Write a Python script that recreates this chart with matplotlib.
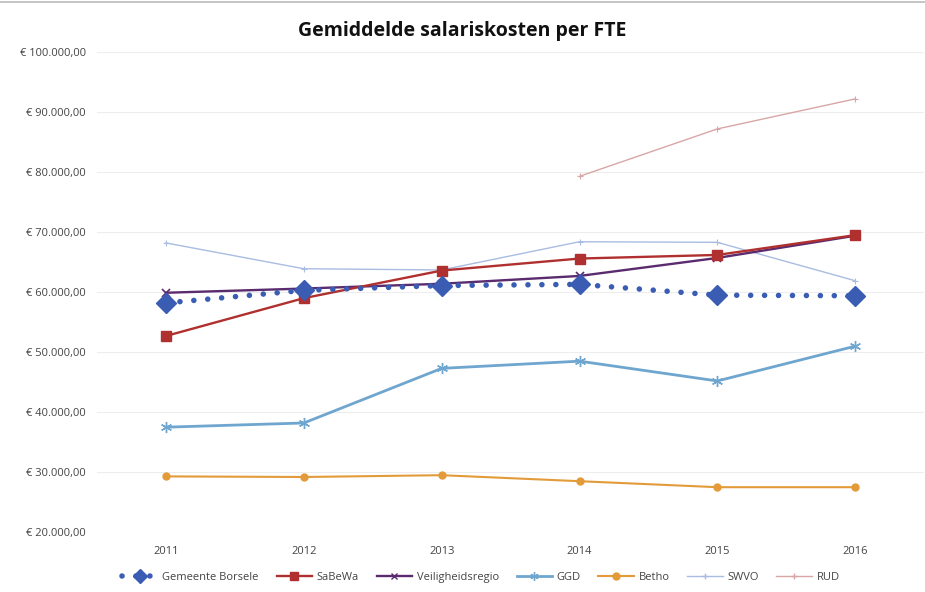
import matplotlib
matplotlib.use("Agg")
import matplotlib.pyplot as plt
from matplotlib.ticker import FuncFormatter
from matplotlib.lines import Line2D
import numpy as np

years = ["2011", "2012", "2013", "2014", "2015", "2016"]
borsele = [58200, 60300, 61100, 61300, 59500, 59400]
sabewa = [52700, 59000, 63600, 65600, 66200, 69500]
veiligheid = [59900, 60600, 61400, 62700, 65700, 69400]
ggd = [37500, 38200, 47300, 48500, 45200, 51000]
betho = [29300, 29200, 29500, 28500, 27500, 27500]
swvo = [68200, 63900, 63700, 68400, 68300, 61900]
rud = [None, None, None, 79300, 87200, 92200]
yticks = list(range(20000, 100001, 10000))

plt.rcParams['font.family'] = ['Open Sans', 'DejaVu Sans']

fig = plt.figure(figsize=(9.25, 5.92), dpi=100)
ax = fig.add_axes([0.105, 0.101, 0.894, 0.811])
x = np.arange(len(years))

def arr(v):
    return np.array([np.nan if a is None else a for a in v], dtype=float)

DOTS = (0, (0.01, 2.5))

ax.plot(x, arr(swvo), color="#A9BCE2", lw=1.0, marker="+", ms=5, mew=0.8, zorder=2)
ax.plot(x, arr(rud), color="#D9A6A6", lw=1.0, marker="+", ms=5, mew=0.8, zorder=2)
ax.plot(x, arr(betho), color="#E39B3A", lw=1.5, marker="o", ms=5, zorder=3)
ax.plot(x, arr(ggd), color="#6FA6CF", lw=2.0, marker=(6, 2, 0), ms=8, mew=1.0, zorder=3)
ax.plot(x, arr(veiligheid), color="#5A2B6E", lw=1.7, marker="x", ms=6, mew=1.2, zorder=4)
ax.plot(x, arr(sabewa), color="#B0302F", lw=1.7, marker="s", ms=7, zorder=4)
ax.plot(x, arr(borsele), color="#3A5DB3", lw=4.0, ls=DOTS, dash_capstyle="round",
        marker="D", ms=10, zorder=5)

ax.set_xlim(-0.5, len(years) - 0.5)
ax.set_ylim(20000, 100000)
ax.set_yticks(yticks)
ax.yaxis.set_major_formatter(FuncFormatter(
    lambda v, p: "€ " + f"{int(v):,}".replace(",", ".") + ",00"))
ax.set_xticks(x)
ax.set_xticklabels(years)
ax.tick_params(axis="both", length=0, labelsize=8, colors="#444444")
ax.tick_params(axis="x", pad=10)
ax.tick_params(axis="y", pad=8)
ax.grid(axis="y", color="#EDEDED", lw=0.8)
for s in ax.spines.values():
    s.set_visible(False)

fig.text(0.5, 0.948, "Gemiddelde salariskosten per FTE", ha="center", va="center",
         fontsize=14, fontweight="bold", color="#111111")

handles = [
    Line2D([], [], color="#3A5DB3", lw=4.0, ls=DOTS, dash_capstyle="round", marker="D", ms=7),
    Line2D([], [], color="#B0302F", lw=1.7, marker="s", ms=6),
    Line2D([], [], color="#5A2B6E", lw=1.7, marker="x", ms=5),
    Line2D([], [], color="#6FA6CF", lw=2.0, marker=(6, 2, 0), ms=6),
    Line2D([], [], color="#E39B3A", lw=1.5, marker="o", ms=5),
    Line2D([], [], color="#A9BCE2", lw=1.0, marker="+", ms=4),
    Line2D([], [], color="#D9A6A6", lw=1.0, marker="+", ms=4),
]
labels = ["Gemeente Borsele", "SaBeWa", "Veiligheidsregio", "GGD", "Betho", "SWVO", "RUD"]
fig.legend(handles, labels, loc="center", bbox_to_anchor=(0.52, 0.024), ncol=7, frameon=False,
           fontsize=8, handlelength=3.2, columnspacing=1.6, handletextpad=0.4,
           labelcolor="#444444")

fig.add_artist(Line2D([0, 1], [0.996, 0.996], transform=fig.transFigure, color="#BBBBBB", lw=1.2))

fig.savefig("out.png", dpi=100)
